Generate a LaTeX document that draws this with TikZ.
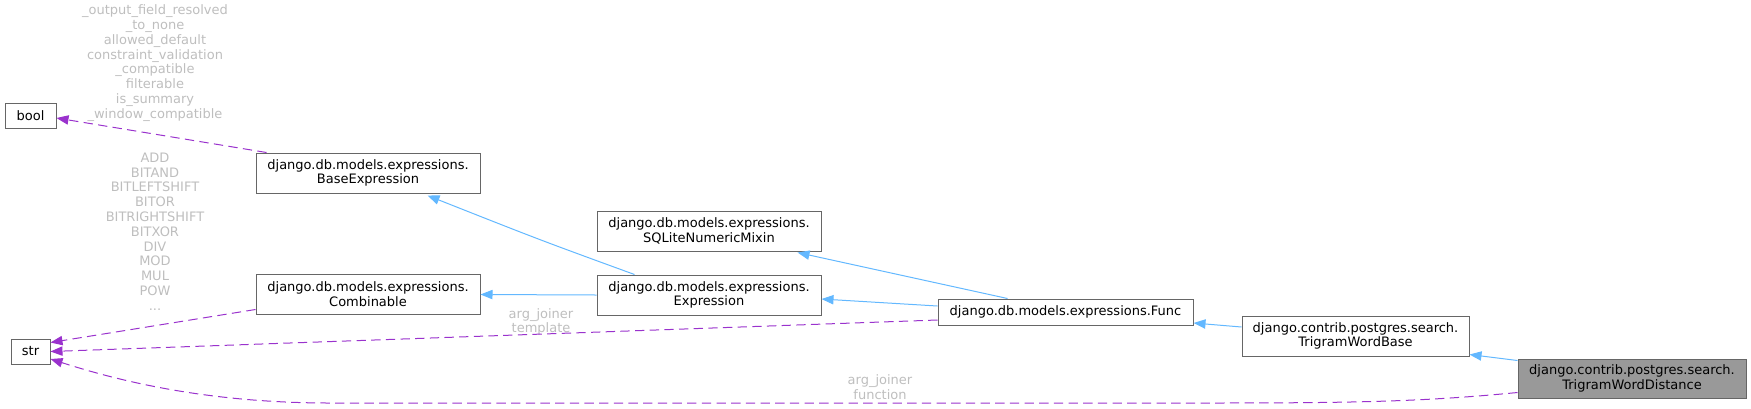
\documentclass[tikz,border=0pt]{standalone}
\usepackage{fontspec}
\setmainfont{DejaVu Sans}
\usetikzlibrary{arrows.meta,calc}
\definecolor{inhblue}{HTML}{63B8FF}
\definecolor{usepurple}{HTML}{9A32CD}
\definecolor{boxgray}{HTML}{666666}
\definecolor{fillgray}{HTML}{999999}
\definecolor{lblgray}{HTML}{BEBEBE}

\begin{document}
\begin{tikzpicture}[x=0.75pt,y=-0.75pt,
  every node/.style={font=\fontsize{9.75}{11.1}\selectfont, align=center, inner sep=0pt},
  cls/.style 2 args={draw=boxgray, line width=0.75pt, minimum width=#1*0.75pt, minimum height=#2*0.75pt},
  lbl/.style={text=lblgray},
  inh/.style={draw=inhblue, line width=0.75pt, -{Triangle[length=9pt,width=7pt]}},
  uses/.style={draw=usepurple, line width=0.75pt, dash pattern=on 7pt off 4pt, -{Triangle[length=9pt,width=7pt]}}]
\useasboundingbox (0,0) rectangle (1751,408);
\node[cls={51}{25}] (bool) at (30.5,115.5) {bool};
\node[cls={39}{25}] (str) at (30.5,351.5) {str};
\node[cls={224}{40}] (baseexpr) at (368,173) {django.db.models.expressions.\\BaseExpression};
\node[cls={224}{40}] (combinable) at (368,294.5) {django.db.models.expressions.\\Combinable};
\node[cls={224}{40}] (sqlite) at (709,231) {django.db.models.expressions.\\SQLiteNumericMixin};
\node[cls={224}{40}] (expression) at (709,295) {django.db.models.expressions.\\Expression};
\node[cls={255}{26}] (func) at (1065.5,312) {django.db.models.expressions.Func};
\node[cls={227}{40}] (twbase) at (1355.5,336) {django.contrib.postgres.search.\\TrigramWordBase};
\node[cls={228}{39}, fill=fillgray] (twdist) at (1632,378.5) {django.contrib.postgres.search.\\TrigramWordDistance};
\node[lbl] (lbool) at (155,63) {\_output\_field\_resolved\\\_to\_none\\allowed\_default\\constraint\_validation\\\_compatible\\filterable\\is\_summary\\\_window\_compatible};
\node[lbl] (lcomb) at (155,231.5) {ADD\\BITAND\\BITLEFTSHIFT\\BITOR\\BITRIGHTSHIFT\\BITXOR\\DIV\\MOD\\MUL\\POW\\...};
\node[lbl] (ltemplate) at (541,322) {arg\_joiner\\template};
\node[lbl] (lfunction) at (880,387) {arg\_joiner\\function};
\draw[uses] ($(baseexpr.north west)+(11,0)$) -- ($(bool.east)+(0,2.5)$);
\draw[uses] ($(combinable.west)+(0,15)$) -- ($(str.east)+(0,-9)$);
\draw[uses] ($(func.west)+(0,8)$) -- (str.east);
\draw[uses] ($(twdist.west)+(0,14)$) .. controls (1420,402) and (1350,403) .. (1200,403) -- (330,403) .. controls (200,403) and (110,378) .. ($(str.east)+(0,7.5)$);
\draw[inh] ($(expression.north west)+(38,0)$) .. controls (540,240) .. ($(baseexpr.south east)+(-53,2)$);
\draw[inh] (expression.west) -- (combinable.east);
\draw[inh] ($(func.north west)+(70,0)$) -- ($(sqlite.south east)+(-24,1)$);
\draw[inh] ($(func.west)+(0,-6)$) -- ($(expression.east)+(0,4)$);
\draw[inh] ($(twbase.west)+(0,-9)$) -- ($(func.east)+(0,11)$);
\draw[inh] ($(twdist.north west)+(0,2)$) -- ($(twbase.south east)+(0,-2)$);
\end{tikzpicture}
\end{document}
